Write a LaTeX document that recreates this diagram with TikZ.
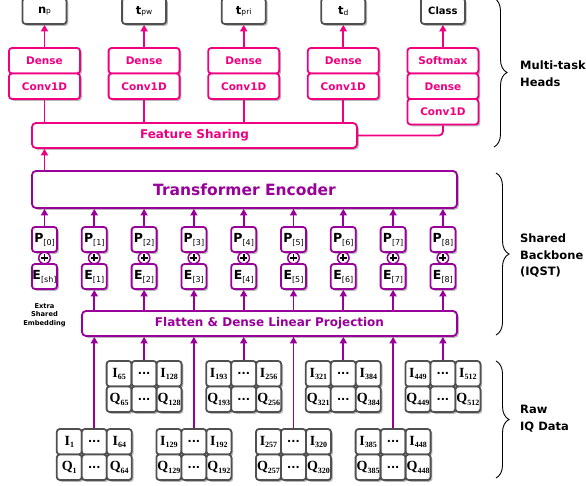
\documentclass[tikz,border=0pt]{standalone}
\usepackage{fontspec}
\setmainfont{DejaVu Sans}
\newfontfamily\serifb{Liberation Serif}
\usetikzlibrary{arrows.meta,shadows,decorations.pathreplacing,calc}
\definecolor{pinkc}{RGB}{240,0,128}
\definecolor{purp}{RGB}{153,0,153}
\definecolor{grayc}{RGB}{80,80,80}
\newcommand\myfs[1]{\fontsize{#1}{#1}\selectfont}
\newcommand\osub[2]{{\myfs{11.5}\bfseries #1}\raisebox{-0.5pt}{\myfs{7.5}\mdseries #2}}
\newcommand\pesub[2]{{\myfs{12.5}\bfseries #1}\raisebox{-3pt}{\myfs{8}\mdseries #2}}
\newcommand\iqsub[2]{{\serifb\bfseries\myfs{14}#1}\raisebox{-2.5pt}{\serifb\bfseries\myfs{8}#2}}
\begin{document}
\begin{tikzpicture}[x=1pt,y=-1pt,
  shad/.style={drop shadow={shadow xshift=1.8pt,shadow yshift=-1.8pt,fill=black,opacity=0.28}},
  outbox/.style={draw=grayc,line width=1.8pt,rounded corners=3pt,fill=white,shad,minimum width=44pt,minimum height=26pt,inner sep=0pt,font=\myfs{10}\bfseries},
  headbox/.style={draw=pinkc,line width=1.8pt,rounded corners=3pt,fill=white,shad,minimum width=71pt,minimum height=25.5pt,inner sep=0pt,text=pinkc,font=\myfs{10.5}\bfseries},
  pinkwide/.style={draw=pinkc,line width=1.8pt,rounded corners=4pt,fill=white,shad,inner sep=0pt,text=pinkc},
  purpwide/.style={draw=purp,line width=1.8pt,rounded corners=4pt,fill=white,shad,inner sep=0pt,text=purp},
  pebox/.style={draw=purp,line width=1.8pt,rounded corners=3pt,fill=white,shad,minimum width=25pt,minimum height=25pt,inner sep=0pt},
  pluscirc/.style={circle,draw=purp,line width=1.5pt,fill=white,minimum size=11.5pt,inner sep=0pt,
    path picture={\draw[line width=1.7pt,black] ($(path picture bounding box.center)+(-3.5pt,0)$) -- ++(7pt,0);
                  \draw[line width=1.7pt,black] ($(path picture bounding box.center)+(0,-3.5pt)$) -- ++(0,7pt);}},
  cell/.style={draw=grayc,line width=1.8pt,rounded corners=3pt,fill=white,shad,minimum width=25pt,minimum height=25.5pt,inner sep=0pt},
  pinkarrow/.style={draw=pinkc,line width=1.8pt,-{Triangle[length=6.5pt,width=7pt]}},
  pinkline/.style={draw=pinkc,line width=1.8pt},
  purparrow/.style={draw=purp,line width=1.8pt,-{Triangle[length=6.5pt,width=7pt]}},
  bracestyle/.style={draw=black,line width=0.9pt,decorate,decoration={brace,amplitude=13pt}},
  sidelabel/.style={anchor=west,align=left,inner sep=0pt,font=\fontsize{11.5}{16.5}\selectfont\bfseries}
]
\useasboundingbox (0,0) rectangle (586,486);

% ---------- multi-task heads ----------
\foreach \k/\lab in {0/{\osub{n}{p}},1/{\osub{t}{pw}},2/{\osub{t}{pri}},3/{\osub{t}{d}},4/{\myfs{10}\bfseries Class}} {
  \node[outbox] (o\k) at ({44.5+99.6*\k},11) {\lab};
}
\foreach \k in {0,1,2,3} {
  \node[headbox] (d\k) at ({44.5+99.6*\k},60.75) {Dense};
  \node[headbox] (c\k) at ({44.5+99.6*\k},86.25) {Conv1D};
  \draw[pinkarrow] (d\k.north) -- (o\k.south);
}
\node[headbox] (d4) at ({44.5+99.6*4},60.75) {Softmax};
\node[headbox] (m4) at ({44.5+99.6*4},86.25) {Dense};
\node[headbox] (c4) at ({44.5+99.6*4},111.75) {Conv1D};
\draw[pinkarrow] (d4.north) -- (o4.south);

\node[pinkwide,minimum width=325pt,minimum height=25pt,font=\myfs{12}\bfseries] (fs) at (194.5,135.5) {Feature Sharing};
\foreach \k in {0,1,2,3} {
  \draw[pinkline] (c\k.south) -- (c\k.south |- fs.north);
}
\draw[pinkline,rounded corners=4pt] (c4.south) |- (fs.east);

% ---------- backbone ----------
\node[purpwide,minimum width=425pt,minimum height=37pt,font=\myfs{15.5}\bfseries] (tr) at (244.5,189.5) {Transformer Encoder};
\node[purpwide,minimum width=375pt,minimum height=25pt,font=\myfs{12}\bfseries] (fl) at (269.5,323.5) {Flatten \& Dense Linear Projection};

\foreach \i in {0,...,8} {
  \node[pebox] (p\i) at ({44.5+49.8*\i},239.5) {\pesub{P}{[\i]}};
}
\node[pebox] (e0) at (44.5,276.5) {\pesub{E}{[sh]}};
\foreach \i in {1,...,8} {
  \node[pebox] (e\i) at ({44.5+49.8*\i},276.5) {\pesub{E}{[\i]}};
}
\foreach \i in {0,...,8} {
  \node[pluscirc] (plus\i) at ({44.5+49.8*\i},258) {};
  \draw[purparrow] (p\i.north) -- (p\i.north |- tr.south);
}
\foreach \i in {1,...,8} {
  \draw[purparrow] (e\i.south |- fl.north) -- (e\i.south);
}
\draw[pinkarrow] (tr.north -| p0) -- (fs.south -| p0);

\node[align=center,inner sep=0pt,font=\fontsize{6.7}{8.3}\selectfont\bfseries] (extra) at (44.5,315) {Extra\\Shared\\Embedding};

% ---------- raw IQ data ----------
\foreach \i in {1,...,8} {
  \pgfmathsetmacro\cx{44.5+49.8*\i}
  \pgfmathsetmacro\ty{isodd(\i) ? 429 : 361}
  \pgfmathtruncatemacro\ia{64*(\i-1)+1}
  \pgfmathtruncatemacro\ib{64*\i}
  \node[cell] (gIa\i) at ({\cx-25},{\ty+12.75}) {\iqsub{I}{\ia}};
  \node[cell] (gIm\i) at (\cx,{\ty+12.75}) {\myfs{11}\bfseries ...};
  \node[cell] (gIb\i) at ({\cx+25},{\ty+12.75}) {\iqsub{I}{\ib}};
  \node[cell] (gQa\i) at ({\cx-25},{\ty+38.25}) {\iqsub{Q}{\ia}};
  \node[cell] (gQm\i) at (\cx,{\ty+38.25}) {\myfs{11}\bfseries ...};
  \node[cell] (gQb\i) at ({\cx+25},{\ty+38.25}) {\iqsub{Q}{\ib}};
  \draw[purparrow] (gIm\i.north) -- (gIm\i.north |- fl.south);
}

% ---------- braces and labels ----------
\coordinate (b1t) at (494,-2);   \coordinate (b1b) at (494,147);
\coordinate (b2t) at (496,173);  \coordinate (b2b) at (496,335);
\coordinate (b3t) at (496,361);  \coordinate (b3b) at (496,478);
\draw[bracestyle] (b1t) -- (b1b);
\draw[bracestyle] (b2t) -- (b2b);
\draw[bracestyle] (b3t) -- (b3b);
\node[sidelabel] (lab1) at (520,73.5) {Multi-task\\Heads};
\node[sidelabel] (lab2) at (520,255.5) {Shared\\Backbone\\(IQST)};
\node[sidelabel] (lab3) at (520,418.5) {Raw\\IQ Data};
\end{tikzpicture}
\end{document}
